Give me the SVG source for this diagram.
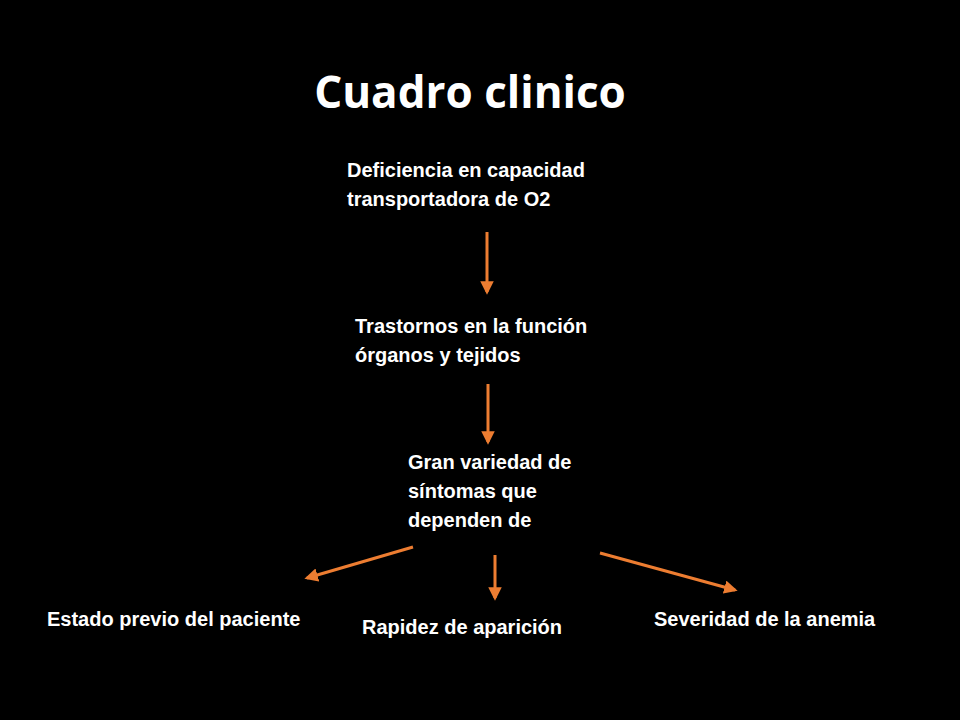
<svg xmlns="http://www.w3.org/2000/svg" width="960" height="720" viewBox="0 0 960 720">
<style>
.t{font-family:"Liberation Sans",Arial,sans-serif;font-weight:bold;font-size:20px;fill:#fff}
.c{stroke:#ED7D31;stroke-width:3;fill:none;marker-end:url(#a)}
</style>
<defs><marker id="a" viewBox="0 0 10 10" refX="8" refY="5" markerWidth="4.5" markerHeight="4.5" orient="auto"><path d="M0,0L10,5L0,10z" fill="#ED7D31"/></marker></defs>
<rect width="960" height="720" fill="#000"/>
<text x="470" y="108" text-anchor="middle" style="font-family:'Open Sans','Liberation Sans',sans-serif;font-weight:bold;font-size:44px;fill:#fff">Cuadro clinico</text>
<g id="n1"><text class="t" x="347" y="177">Deficiencia en capacidad</text><text class="t" x="347" y="206">transportadora de O2</text></g>
<g id="n2"><text class="t" x="355" y="333">Trastornos en la función</text><text class="t" x="355" y="362">órganos y tejidos</text></g>
<g id="n3"><text class="t" x="408" y="469">Gran variedad de</text><text class="t" x="408" y="498">síntomas que</text><text class="t" x="408" y="527">dependen de</text></g>
<g id="n4"><text class="t" x="47" y="626">Estado previo del paciente</text></g>
<g id="n5"><text class="t" x="362" y="634">Rapidez de aparición</text></g>
<g id="n6"><text class="t" x="654" y="626">Severidad de la anemia</text></g>
<g id="connectors">
<path class="c" d="M487,232V292"/>
<path class="c" d="M488,384V442"/>
<path class="c" d="M413,547L307,578"/>
<path class="c" d="M495,555V598"/>
<path class="c" d="M600,553L735,590"/>
</g>
</svg>
